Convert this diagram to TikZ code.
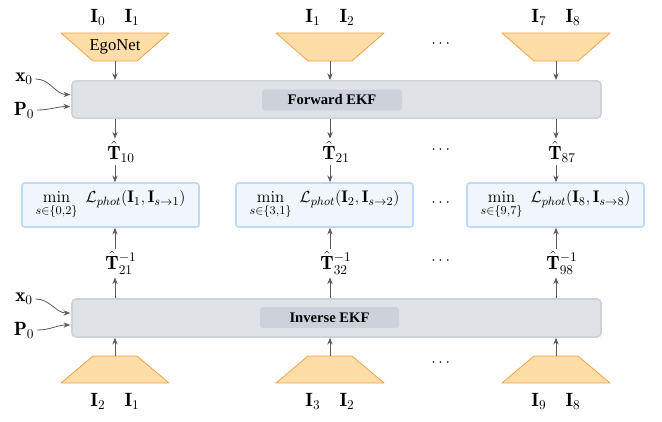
\documentclass[tikz,border=0pt,11pt]{standalone}
\usepackage{amsmath}
\usepackage{fontspec}
\usepackage{tikz}
\usetikzlibrary{arrows.meta,calc,positioning}
\newfontfamily\tagfont{Liberation Serif}
\definecolor{trapfill}{HTML}{FEDDA6}
\definecolor{trapedge}{HTML}{F4A24C}
\definecolor{ekffill}{HTML}{DFE2E7}
\definecolor{ekfedge}{HTML}{CDD2D9}
\definecolor{ekftag}{HTML}{CDD2DA}
\definecolor{lossfill}{HTML}{F0F6FC}
\definecolor{lossedge}{HTML}{BCDAF6}
\definecolor{flowgray}{HTML}{5A5A5A}

\tikzset{
  trapz/.style={fill=trapfill, draw=trapedge, line width=0.6pt, line join=round},
  ekfbox/.style={rectangle, rounded corners=3pt, fill=ekffill, draw=ekfedge,
    line width=1.2pt, minimum width=396.75pt, minimum height=28pt, inner sep=0pt},
  ekftag/.style={rectangle, rounded corners=2pt, fill=ekftag, minimum height=15.5pt,
    inner sep=0pt, font=\tagfont\bfseries},
  lossbox/.style={rectangle, rounded corners=2pt, fill=lossfill, draw=lossedge,
    line width=1.2pt, minimum width=132.75pt, minimum height=33pt, inner sep=1pt,
    font=\fontsize{12.6}{15}\selectfont},
  lbl/.style={font=\Large, inner sep=2pt},
  flow/.style={draw=flowgray, line width=0.6pt, -{Stealth[length=5pt,width=4pt]}},
}

\begin{document}
\begin{tikzpicture}[x=0.75pt,y=-0.75pt]
  \useasboundingbox (0,0) rectangle (662,422);

  % image pairs and encoders, top row
  \node[lbl] (inA) at (115,17) {$\mathbf{I}_0\quad\mathbf{I}_1$};
  \node[lbl] (inB) at (330,17) {$\mathbf{I}_1\quad\mathbf{I}_2$};
  \node[lbl] (inC) at (556,17) {$\mathbf{I}_7\quad\mathbf{I}_8$};
  \foreach \n/\x in {tA/115,tB/330,tC/556}{
    \coordinate (\n) at (\x,47);
    \filldraw[trapz] ($(\n)+(-54,-14)$) -- ($(\n)+(54,-14)$) -- ($(\n)+(22,14)$)
      -- ($(\n)+(-22,14)$) -- cycle;
    \coordinate (\n-out) at ($(\n)+(0,14)$);
  }
  \node[font=\tagfont\fontsize{12.5}{14}\selectfont] (ego) at (tA) {EgoNet};
  \node[font=\large] (dotsT) at (442,44) {$\cdots$};

  % forward filter
  \node[ekfbox] (fwd) at (336.5,99.5) {};
  \node[ekftag, minimum width=105pt] (fwdtag) at (332,100) {Forward EKF};
  \node[lbl] (fx) at (24,79) {$\mathbf{x}_0$};
  \node[lbl] (fP) at (24,110) {$\mathbf{P}_0$};
  \coordinate (fxin) at ($(fwd.west)+(-1,-5)$);
  \coordinate (fPin) at ($(fwd.west)+(-1,7)$);

  % relative poses
  \node[lbl] (pA) at (121,152) {$\hat{\mathbf{T}}_{10}$};
  \node[lbl] (pB) at (336,152) {$\hat{\mathbf{T}}_{21}$};
  \node[lbl] (pC) at (562,152) {$\hat{\mathbf{T}}_{87}$};
  \node[font=\large] (dotsP) at (442,150) {$\cdots$};

  % photometric losses
  \node[lossbox] (lA) at (110.5,205)
    {$\displaystyle\min_{s\in\{0,2\}}\ \mathcal{L}_{phot}(\mathbf{I}_1,\mathbf{I}_{s\to 1})$};
  \node[lossbox] (lB) at (324.5,205)
    {$\displaystyle\min_{s\in\{3,1\}}\ \mathcal{L}_{phot}(\mathbf{I}_2,\mathbf{I}_{s\to 2})$};
  \node[lossbox] (lC) at (555.5,205)
    {$\displaystyle\min_{s\in\{9,7\}}\ \mathcal{L}_{phot}(\mathbf{I}_8,\mathbf{I}_{s\to 8})$};
  \node[font=\large] (dotsL) at (442,203) {$\cdots$};

  % inverse poses
  \node[lbl] (qA) at (121,263) {$\hat{\mathbf{T}}_{21}^{-1}$};
  \node[lbl] (qB) at (336,263) {$\hat{\mathbf{T}}_{32}^{-1}$};
  \node[lbl] (qC) at (562,263) {$\hat{\mathbf{T}}_{98}^{-1}$};
  \node[font=\large] (dotsQ) at (442,261) {$\cdots$};

  % inverse filter
  \node[ekfbox, minimum height=28.5pt] (inv) at (336.5,318) {};
  \node[ekftag, minimum width=104.25pt] (invtag) at (329.5,317.5) {Inverse EKF};
  \node[lbl] (ix) at (24,299) {$\mathbf{x}_0$};
  \node[lbl] (iP) at (24,330) {$\mathbf{P}_0$};
  \coordinate (ixin) at ($(inv.west)+(-1,-5)$);
  \coordinate (iPin) at ($(inv.west)+(-1,7)$);

  % encoders and image pairs, bottom row
  \foreach \n/\x in {bA/115,bB/330,bC/556}{
    \coordinate (\n) at (\x,369.5);
    \filldraw[trapz] ($(\n)+(-22,-13.5)$) -- ($(\n)+(22,-13.5)$) -- ($(\n)+(54,13.5)$)
      -- ($(\n)+(-54,13.5)$) -- cycle;
    \coordinate (\n-out) at ($(\n)+(0,-13.5)$);
  }
  \node[font=\large] (dotsB) at (442,363) {$\cdots$};
  \node[lbl] (outA) at (115,401) {$\mathbf{I}_2\quad\mathbf{I}_1$};
  \node[lbl] (outB) at (330,401) {$\mathbf{I}_3\quad\mathbf{I}_2$};
  \node[lbl] (outC) at (556,401) {$\mathbf{I}_9\quad\mathbf{I}_8$};

  % connectors
  \draw[flow] (fx.east) to[out=0,in=180] (fxin);
  \draw[flow] (fP.east) to[out=0,in=180] (fPin);
  \draw[flow] (ix.east) to[out=0,in=180] (ixin);
  \draw[flow] (iP.east) to[out=0,in=180] (iPin);
  \foreach \t/\p/\l/\q/\b in {tA/pA/lA/qA/bA, tB/pB/lB/qB/bB, tC/pC/lC/qC/bC}{
    \draw[flow] (\t-out) -- (\t |- fwd.north);
    \draw[flow] (\t |- fwd.south) -- (\t |- \p.north);
    \draw[flow] (\t |- \p.south) -- (\t |- \l.north);
    \draw[flow] (\t |- inv.north) -- (\t |- \q.south);
    \draw[flow] (\t |- \q.north) -- (\t |- \l.south);
    \draw[flow] (\b-out) -- (\b |- inv.south);
  }
\end{tikzpicture}
\end{document}
